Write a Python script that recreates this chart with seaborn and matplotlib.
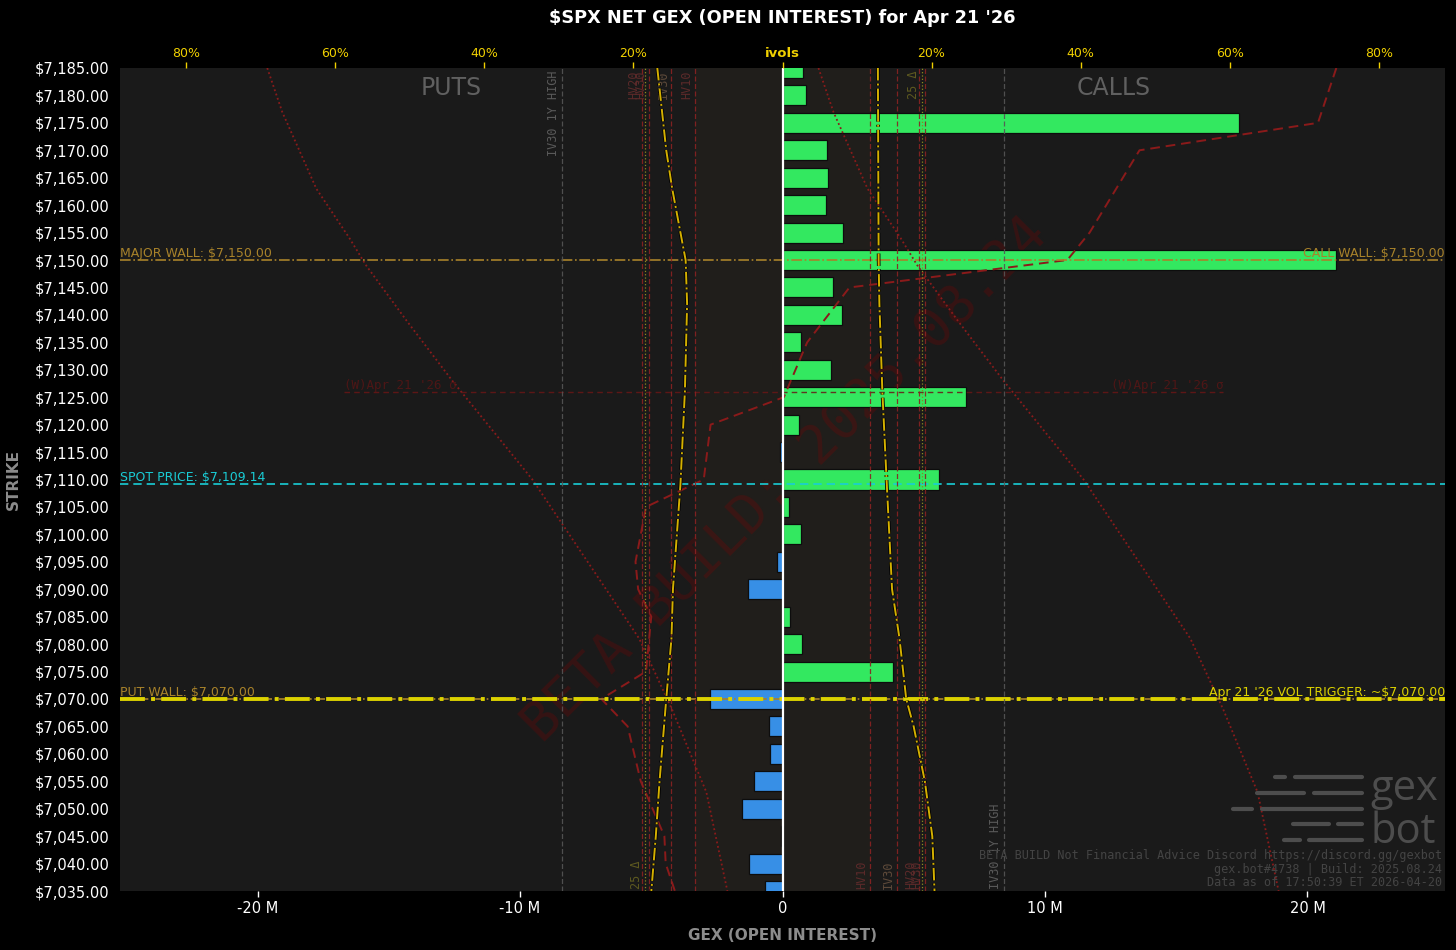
import numpy as np
import pandas as pd
import matplotlib
matplotlib.use("Agg")
import matplotlib.pyplot as plt
import matplotlib.patheffects as pe
import matplotlib.transforms as mtrans
from matplotlib.lines import Line2D
from matplotlib.patches import Rectangle
from matplotlib.ticker import FuncFormatter, FixedLocator
import seaborn as sns

# ---- data ----
strikes = [7185, 7180, 7175, 7170, 7165, 7160, 7155, 7150, 7145, 7140, 7135,
           7130, 7125, 7120, 7115, 7110, 7105, 7100, 7095, 7090, 7085, 7080,
           7075, 7070, 7065, 7060, 7055, 7050, 7045, 7040, 7035]
net_gex_m = [0.80, 0.91, 17.4, 1.70, 1.75, 1.64, 2.29, 21.1, 1.94, 2.25, 0.72,
             1.85, 7.00, 0.64, -0.10, 5.98, 0.25, 0.69, -0.20, -1.32, 0.27, 0.76,
             4.20, -2.78, -0.53, -0.47, -1.07, -1.56, -0.04, -1.26, -0.65]

# implied vol skew (put side drawn to the left, call side to the right)
put_iv_strikes = [7185, 7170, 7163, 7150, 7142, 7126, 7109, 7090, 7081, 7070, 7055, 7045, 7035]
put_iv = [16.8, 15.6, 14.8, 13.0, 12.8, 13.1, 13.7, 14.7, 14.9, 15.6, 16.5, 17.0, 17.6]
call_iv_strikes = [7185, 7150, 7142, 7126, 7109, 7090, 7081, 7070, 7065, 7055, 7045, 7035]
call_iv = [12.8, 12.9, 13.0, 13.4, 14.0, 14.7, 15.7, 16.6, 17.6, 19.1, 20.1, 20.4]

# red dashed profile (GEX units, M)
profile_strikes = [7185, 7175, 7170, 7155, 7150, 7145, 7135, 7125, 7120, 7110,
                   7105, 7095, 7090, 7085, 7075, 7070, 7065, 7055, 7045, 7040, 7035]
profile_m = [21.1, 20.4, 13.6, 11.7, 10.85, 2.55, 0.94, 0.05, -2.74, -3.0,
             -5.2, -5.6, -5.5, -5.0, -5.2, -6.9, -5.9, -5.4, -4.5, -4.45, -4.1]

# red dotted sigma cone curves (GEX units, M)
cone_strikes = [7185, 7177, 7163, 7154, 7149, 7139, 7128, 7110, 7081, 7068, 7053, 7035]
cone_right_m = [1.37, 1.94, 3.24, 4.50, 5.14, 6.67, 8.42, 11.47, 15.54, 16.80, 18.10, 18.90]
cone_left_m = [-19.63, -19.06, -17.76, -16.50, -15.86, -14.33, -12.58, -9.53, -5.46, -4.20, -2.90, -2.10]

# vol reference lines (ivol %, put side left / call side right)
put_vol_labels = ["IV30 1Y HIGH", "HV20", "HV30", "IV30", "HV10"]
put_vol_levels = [29.6, 18.8, 17.9, 14.9, 11.7]
call_vol_labels = ["HV10", "IV30", "HV20", "HV30", "IV30 1Y HIGH"]
call_vol_levels = [11.8, 15.3, 18.3, 19.1, 29.7]
delta25_levels = [18.5, 18.7]

spot = 7109.14
major_wall = 7150
put_wall = 7070
vol_trigger = 7070
sigma_level = 7126
sigma_span = [-16.7, 16.8]

ivol_ticks = [-80, -60, -40, -20, 0, 20, 40, 60, 80]
ivol_tick_labels = ["80%", "60%", "40%", "20%", "ivols", "20%", "40%", "60%", "80%"]

GREEN = "#33e860"
BLUE = "#378fe6"
GOLD = "#a8822a"
YELLOW = "#dcd200"
CYAN = "#19cdd6"
DARKRED = "#8b1a1a"

sns.set_theme(style="dark")
plt.rcParams["font.family"] = ["DejaVu Sans"]

W, H = 1456, 950
fig = plt.figure(figsize=(W / 100, H / 100), dpi=100, facecolor="black")
ax = fig.add_axes([120 / W, 1 - 891 / H, 1325 / W, 823 / H])
ax.set_facecolor("#1a1a1a")
for s in ax.spines.values():
    s.set_visible(False)

ax.set_xlim(-25.24, 25.24)
ax.set_ylim(7035, 7185)

ax2 = ax.twiny()
ax2.set_xlim(-88.9, 88.9)
for s in ax2.spines.values():
    s.set_visible(False)

# shaded band between the HV10 lines
band = Rectangle((-put_vol_levels[4], 0), put_vol_levels[4] + call_vol_levels[0], 1,
                 transform=mtrans.blended_transform_factory(ax2.transData, ax.transAxes),
                 facecolor="#3a3020", alpha=0.2, zorder=0.5, lw=0)
ax.add_patch(band)

# ---- bars ----
df = pd.DataFrame({"strike": strikes, "gex": net_gex_m})
df["side"] = np.where(df["gex"] >= 0, "call", "put")
sns.barplot(data=df, x="gex", y="strike", hue="side", orient="h", native_scale=True,
            palette={"call": GREEN, "put": BLUE}, width=0.73, dodge=False, saturation=1,
            legend=False, edgecolor="#0d0d0d", linewidth=0.9, ax=ax, zorder=2)
ax.set_xlim(-25.24, 25.24)
ax.set_ylim(7035, 7185)

# red profile + cone
ax.plot(profile_m, profile_strikes, color=DARKRED, ls=(0, (5, 3)), lw=1.4, zorder=3)
ax.plot(cone_right_m, cone_strikes, color=DARKRED, ls=(0, (1, 1.5)), lw=1.3, zorder=3)
ax.plot(cone_left_m, cone_strikes, color=DARKRED, ls=(0, (1, 1.5)), lw=1.3, zorder=3)

# horizontal levels
ax.axhline(major_wall, color=GOLD, ls="-.", lw=1.2, zorder=5)
ax.axhline(spot, color=CYAN, ls=(0, (5, 3)), lw=1.2, zorder=5)
ax.axhline(put_wall, color=GOLD, ls="-.", lw=1.2, zorder=5)
ax.axhline(vol_trigger, color=YELLOW, ls="-.", lw=2.8, zorder=5)
ax.hlines(sigma_level, sigma_span[0], sigma_span[1], color="#6a1616", ls=(0, (4, 3)),
          lw=1.0, alpha=0.85, zorder=6)
ax.axvline(0, color="white", lw=1.6, zorder=7)

lbl = dict(fontsize=9, zorder=8)
ax.text(0.0, major_wall, "MAJOR WALL: $7,150.00", color=GOLD, ha="left", va="bottom",
        transform=ax.get_yaxis_transform(), **lbl)
ax.text(1.0, major_wall, "CALL WALL: $7,150.00", color=GOLD, ha="right", va="bottom",
        transform=ax.get_yaxis_transform(), **lbl)
ax.text(0.0, spot, "SPOT PRICE: $7,109.14", color=CYAN, ha="left", va="bottom",
        transform=ax.get_yaxis_transform(), **lbl)
ax.text(0.0, put_wall, "PUT WALL: $7,070.00", color=GOLD, ha="left", va="bottom",
        transform=ax.get_yaxis_transform(), **lbl)
ax.text(1.0, vol_trigger, "Apr 21 '26 VOL TRIGGER: ~$7,070.00", color=YELLOW, ha="right",
        va="bottom", transform=ax.get_yaxis_transform(), **lbl)
ax.text(sigma_span[0], sigma_level, "(W)Apr 21 '26 σ", color="#4e1616", ha="left",
        va="bottom", family="DejaVu Sans Mono", fontsize=9, zorder=6)
ax.text(sigma_span[1], sigma_level, "(W)Apr 21 '26 σ", color="#4e1616", ha="right",
        va="bottom", family="DejaVu Sans Mono", fontsize=9, zorder=6)

ax.text(0.25, 0.99, "PUTS", transform=ax.transAxes, color="#606060", fontsize=17,
        ha="center", va="top", zorder=1)
ax.text(0.75, 0.99, "CALLS", transform=ax.transAxes, color="#606060", fontsize=17,
        ha="center", va="top", zorder=1)

ax.text(0.502, 0.5, "BETA BUILD: 2025.08.24", transform=ax.transAxes, rotation=45,
        ha="center", va="center", family="DejaVu Sans Mono", fontsize=39,
        color="#8b0000", alpha=0.25, zorder=1)

# ---- ivol overlay ----
stroke = [pe.Stroke(linewidth=2.6, foreground="black"), pe.Normal()]
ax2.plot([-v for v in put_iv], put_iv_strikes, color="#d4b000", ls="-.", lw=1.4,
         path_effects=stroke, zorder=4)
ax2.plot(call_iv, call_iv_strikes, color="#d4b000", ls="-.", lw=1.4,
         path_effects=stroke, zorder=4)

xtop = mtrans.blended_transform_factory(ax2.transData, ax2.transAxes)
off = mtrans.ScaledTranslation(-2 / 100, 0, fig.dpi_scale_trans)
mono = dict(family="DejaVu Sans Mono", fontsize=8.5, rotation=90, ha="right")


def vol_color(name):
    if "1Y" in name:
        return "#555555", "#5a5a5a"
    if name.startswith("IV"):
        return "#8a2222", "#5e4a3a"
    return "#8a2222", "#5c2a2a"


for name, lvl in zip(put_vol_labels, put_vol_levels):
    lc, tc = vol_color(name)
    ax2.axvline(-lvl, color=lc, ls=(0, (4, 2)), lw=0.9, alpha=0.9, zorder=3)
    ax2.text(-lvl, 0.997, name, color=tc, va="top", transform=xtop + off, **mono)
for name, lvl in zip(call_vol_labels, call_vol_levels):
    lc, tc = vol_color(name)
    ax2.axvline(lvl, color=lc, ls=(0, (4, 2)), lw=0.9, alpha=0.9, zorder=3)
    ax2.text(lvl, 0.003, name, color=tc, va="bottom", transform=xtop + off, **mono)
ax2.axvline(-delta25_levels[0], color="#8a8a20", ls=":", lw=0.9, zorder=3)
ax2.axvline(delta25_levels[1], color="#8a8a20", ls=":", lw=0.9, zorder=3)
ax2.text(-delta25_levels[0], 0.003, "25 Δ", color="#5e5a20", va="bottom",
         transform=xtop + off, **mono)
ax2.text(delta25_levels[1], 0.997, "25 Δ", color="#5e5a20", va="top",
         transform=xtop + off, **mono)

ax2.xaxis.set_major_locator(FixedLocator(ivol_ticks))
ax2.set_xticklabels(ivol_tick_labels)
ax2.tick_params(axis="x", colors="#f0d000", labelsize=9, length=4, width=1, pad=2)
for t in ax2.get_xticklabels():
    if t.get_text() == "ivols":
        t.set_fontweight("bold")
        t.set_fontsize(9.5)
ax2.grid(False)

# ---- main axes ticks ----
ax.yaxis.set_major_locator(FixedLocator(strikes))
ax.yaxis.set_major_formatter(FuncFormatter(lambda v, p: f"${v:,.2f}"))
ax.xaxis.set_major_locator(FixedLocator([-20, -10, 0, 10, 20]))
ax.xaxis.set_major_formatter(FuncFormatter(lambda v, p: "0" if v == 0 else f"{v:.0f} M"))
ax.tick_params(axis="both", colors="white", labelsize=10.5, length=4, width=1)
ax.grid(False)
ax.set_xlabel("GEX (OPEN INTEREST)", color="#8c8c8c", fontsize=11, fontweight="bold", labelpad=8)
ax.set_ylabel("STRIKE", color="#8c8c8c", fontsize=11, fontweight="bold", labelpad=10)

fig.text(782 / W, 1 - 18 / H, "$SPX NET GEX (OPEN INTEREST) for Apr 21 '26", color="white",
         fontsize=12.8, fontweight="bold", ha="center", va="center")

# footer
foot = dict(family="DejaVu Sans Mono", fontsize=8.5, color="#444444", ha="right", va="center")
fig.text(1442 / W, 1 - 855 / H, "BETA BUILD Not Financial Advice Discord https://discord.gg/gexbot", **foot)
fig.text(1442 / W, 1 - 869 / H, "gex.bot#4738 | Build: 2025.08.24", **foot)
fig.text(1442 / W, 1 - 883 / H, "Data as of 17:50:39 ET 2026-04-20", **foot)

# gexbot logo
logo_rows = [(777, [(1275, 1285), (1295, 1362)]), (793, [(1257, 1304), (1314, 1362)]),
             (809, [(1233, 1252), (1262, 1362)]), (824, [(1293, 1329), (1338, 1362)]),
             (840, [(1284, 1300), (1309, 1362)])]
for yy, segs in logo_rows:
    for x0, x1 in segs:
        fig.add_artist(Line2D([x0 / W, x1 / W], [1 - yy / H] * 2, transform=fig.transFigure,
                              color="#4d4d4d", lw=3, solid_capstyle="round"))
fig.text(1370 / W, 1 - 800 / H, "gex", color="#4d4d4d", fontsize=30, family="Open Sans",
         ha="left", va="baseline")
fig.text(1370 / W, 1 - 843 / H, "bot", color="#4d4d4d", fontsize=30, family="Open Sans",
         ha="left", va="baseline")

fig.savefig("out.png", dpi=100, facecolor="black")
